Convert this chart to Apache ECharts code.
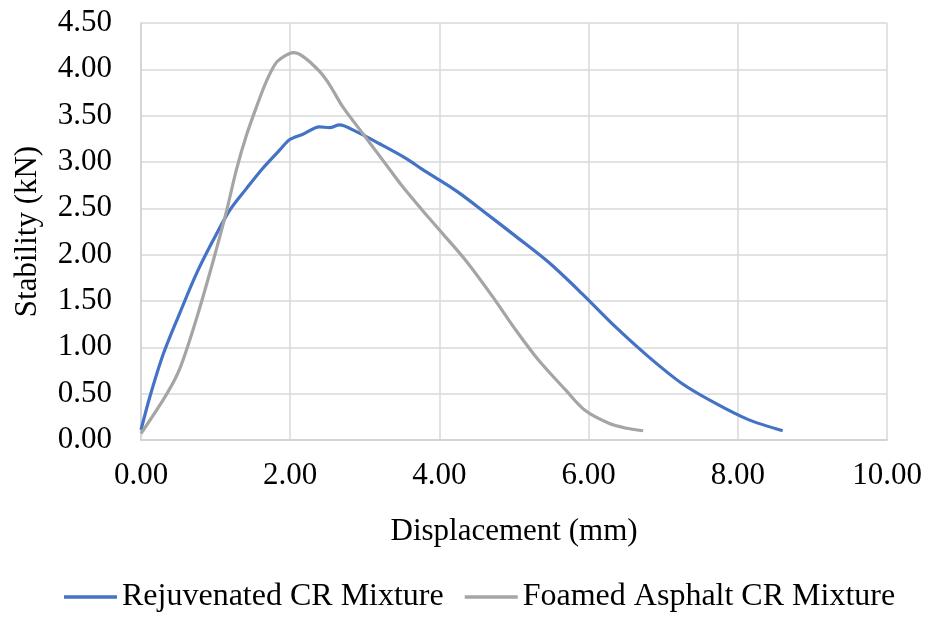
<!DOCTYPE html>
<html>
<head>
<meta charset="utf-8">
<script src="https://cdn.jsdelivr.net/npm/echarts@6/dist/echarts.min.js"></script>
<style>html,body{margin:0;padding:0;background:#fff}#c{width:925px;height:617px}</style>
</head>
<body>
<div id="c"></div>
<script>
var seriesNames = ["Rejuvenated CR Mixture", "Foamed Asphalt CR Mixture"];
var rejuvenated = [[0,0.11],[0.12,0.47],[0.30,0.93],[0.52,1.37],[0.74,1.79],[0.97,2.16],[1.19,2.48],[1.41,2.71],[1.63,2.93],[1.86,3.13],[1.99,3.24],[2.17,3.30],[2.39,3.38],[2.53,3.37],[2.66,3.40],[2.88,3.33],[3.19,3.20],[3.55,3.04],[3.77,2.92],[3.99,2.81],[4.13,2.74],[4.31,2.64],[4.57,2.48],[5.02,2.20],[5.46,1.92],[5.91,1.58],[6.36,1.22],[6.80,0.90],[7.25,0.61],[7.69,0.40],[8.14,0.22],[8.60,0.10]];
var foamed = [[0,0.07],[0.34,0.49],[0.52,0.77],[0.74,1.30],[0.97,1.94],[1.14,2.45],[1.28,2.92],[1.41,3.28],[1.55,3.60],[1.68,3.87],[1.81,4.07],[1.94,4.15],[2.04,4.18],[2.17,4.14],[2.39,3.98],[2.53,3.83],[2.70,3.60],[2.97,3.31],[3.24,3.02],[3.50,2.74],[3.77,2.48],[4.04,2.23],[4.35,1.94],[4.71,1.55],[5.02,1.19],[5.33,0.86],[5.69,0.54],[5.95,0.32],[6.27,0.18],[6.49,0.13],[6.73,0.10]];
var xTitle = "Displacement (mm)";
var yTitle = "Stability (kN)";

var font = "'Liberation Serif', 'Times New Roman', serif";
var fs = 31;
var chart = echarts.init(document.getElementById('c'), null, {renderer: 'canvas'});
chart.setOption({
  animation: false,
  backgroundColor: '#fff',
  textStyle: {fontFamily: font},
  grid: {left: 141, right: 36, top: 23, bottom: 177, containLabel: false},
  legend: {
    bottom: 4, left: 64, padding: 0,
    icon: 'rect', itemWidth: 53, itemHeight: 3.5, itemGap: 21,
    textStyle: {fontFamily: font, fontSize: 32, color: '#000'},
    data: seriesNames
  },
  xAxis: {
    type: 'value', min: 0, max: 10, interval: 2,
    name: xTitle, nameLocation: 'middle', nameGap: 76,
    nameTextStyle: {fontFamily: font, fontSize: fs, color: '#000'},
    axisLine: {lineStyle: {color: '#D0D0D0', width: 1.5}},
    axisTick: {show: false},
    axisLabel: {fontFamily: font, fontSize: fs, color: '#000', margin: 20, formatter: function(v){return v.toFixed(2);}},
    splitLine: {show: true, lineStyle: {color: '#D9D9D9', width: 1.5}}
  },
  yAxis: {
    type: 'value', min: 0, max: 4.5, interval: 0.5,
    name: yTitle, nameLocation: 'middle', nameGap: 98,
    nameTextStyle: {fontFamily: font, fontSize: fs, color: '#000'},
    axisLine: {show: true, lineStyle: {color: '#D0D0D0', width: 1.5}},
    axisTick: {show: false},
    axisLabel: {fontFamily: font, fontSize: fs, color: '#000', margin: 29, formatter: function(v){return v.toFixed(2);}},
    splitLine: {show: true, lineStyle: {color: '#D9D9D9', width: 1.5}}
  },
  series: [
    {name: seriesNames[0], type: 'line', data: rejuvenated, showSymbol: false, symbol: 'none', smooth: 0.3,
     lineStyle: {color: '#4472C4', width: 3.2}, itemStyle: {color: '#4472C4'}},
    {name: seriesNames[1], type: 'line', data: foamed, showSymbol: false, symbol: 'none', smooth: 0.3,
     lineStyle: {color: '#A5A5A5', width: 3.2}, itemStyle: {color: '#A5A5A5'}}
  ]
});
</script>
</body>
</html>
